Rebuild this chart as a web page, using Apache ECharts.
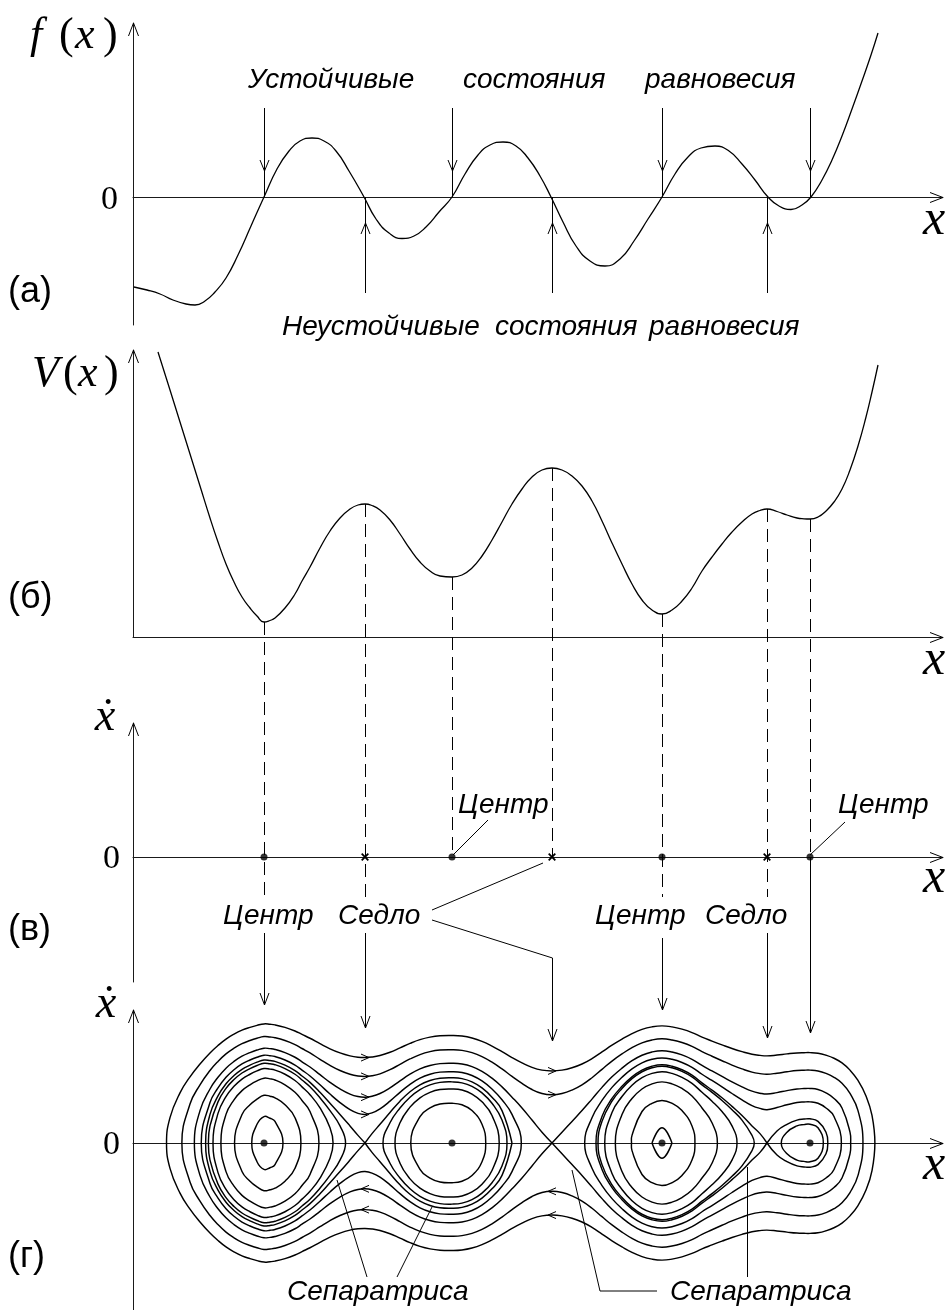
<!DOCTYPE html>
<html><head><meta charset="utf-8"><title>Phase portrait</title>
<script src="https://cdn.jsdelivr.net/npm/echarts@6/dist/echarts.min.js"></script>
<style>html,body{margin:0;padding:0;background:#fff}#c{width:948px;height:1310px}</style>
</head><body><div id="c"></div>
<script>
// ---------- data read from the picture (x measured in units of 100 px from the vertical axes) ----------
// panel (а): f(x)
const fX = [0.01,0.14,0.27,0.40,0.53,0.62,0.72,0.82,0.93,1.05,1.18,1.31,1.44,1.56,1.67,1.79,1.91,2.03,2.16,2.31,2.43,2.56,2.69,2.81,2.93,3.06,3.19,3.32,3.45,3.57,3.70,3.83,3.95,4.07,4.18,4.30,4.43,4.57,4.72,4.87,5.01,5.15,5.29,5.42,5.55,5.68,5.82,5.96,6.09,6.22,6.35,6.46,6.58,6.69,6.78,6.89,6.99,7.09,7.19,7.29,7.38,7.45];
const fY = [-0.90,-0.93,-0.97,-1.03,-1.07,-1.08,-1.04,-0.95,-0.81,-0.58,-0.29,0,0.28,0.46,0.56,0.59,0.56,0.46,0.26,0,-0.22,-0.36,-0.415,-0.39,-0.30,-0.15,0,0.23,0.42,0.52,0.55,0.51,0.39,0.21,0,-0.25,-0.49,-0.64,-0.69,-0.62,-0.44,-0.22,0,0.23,0.40,0.49,0.51,0.46,0.33,0.17,0,-0.09,-0.125,-0.08,0,0.17,0.37,0.61,0.88,1.16,1.42,1.64];
// panel (б): V(x)
const vX = [0.25,0.37,0.47,0.57,0.67,0.77,0.85,0.93,1.01,1.09,1.17,1.24,1.31,1.37,1.42,1.52,1.62,1.69,1.77,1.87,1.97,2.07,2.17,2.25,2.32,2.39,2.47,2.57,2.67,2.77,2.87,2.97,3.07,3.19,3.29,3.39,3.49,3.59,3.69,3.79,3.89,3.99,4.09,4.19,4.29,4.39,4.49,4.59,4.69,4.79,4.89,4.99,5.09,5.19,5.29,5.39,5.49,5.59,5.69,5.79,5.89,5.99,6.09,6.19,6.27,6.34,6.44,6.54,6.64,6.71,6.77,6.85,6.93,7.01,7.09,7.17,7.25,7.33,7.39,7.45];
const vV = [2.85,2.47,2.15,1.83,1.51,1.19,0.95,0.73,0.55,0.40,0.29,0.21,0.15,0.165,0.19,0.29,0.43,0.56,0.70,0.89,1.06,1.19,1.28,1.32,1.33,1.315,1.27,1.17,1.03,0.88,0.75,0.66,0.61,0.60,0.62,0.69,0.81,0.97,1.15,1.33,1.48,1.60,1.67,1.69,1.67,1.61,1.51,1.36,1.16,0.94,0.73,0.53,0.37,0.27,0.23,0.27,0.36,0.49,0.66,0.80,0.93,1.05,1.15,1.23,1.265,1.28,1.255,1.22,1.19,1.182,1.18,1.20,1.26,1.35,1.48,1.67,1.91,2.20,2.45,2.72];
// equilibria (в)
const eqX = [1.31,2.32,3.19,4.19,5.29,6.34,6.77];
const eqKind = ['c','s','c','s','c','s','c'];
// panel (г): energy levels of the drawn phase curves and the wells (seed x) in which each one is drawn
const energyLevels = [0.27,0.54,0.87,1.10,1.24,1.28,1.33,1.47,1.69,2.09,2.58];
const levelSeeds = [[1.31,5.29],[1.31,5.29],[1.31,3.19,5.29],[1.31,3.19,5.29],[1.31,3.19,5.29,6.77],[5.29],[1.31],[1.31,5.29],[1.31],[1.31],[1.31]];
const velScale = 0.764;   // xdot = velScale * sqrt(E - V(x))
// flow-direction chevrons drawn on the phase curves above/below the saddles
const flowArrowSaddles = [2.32,4.19];
const flowArrowUpper = [[1.47,1.69,2.09,2.58],[2.09,2.58]];
const flowArrowLower = [[1.69,2.09],[2.09,2.58]];

// ---------- layout ----------
const PANELS = [
  {top:23,  height:302, ymin:-1.28, ymax:1.74},
  {top:350, height:287, ymin:0,     ymax:2.87},
  {top:723, height:259, ymin:-1.25, ymax:1.34},
  {top:1010,height:300, ymin:-1.67, ymax:1.33}
];
const INK = '#000';
const AX = '#1a1a1a';

// ---------- phase curves: level sets E = const of the energy built from V(x) ----------
function buildPieces(){
  const pieces = [];
  const n = vX.length;
  energyLevels.forEach((E, li) => {
    const seeds = levelSeeds[li];
    const ins = k => vV[k] <= E + 1e-9;
    let i = 0;
    while (i < n) {
      if (!ins(i)) { i++; continue; }
      let j = i; while (j + 1 < n && ins(j + 1)) j++;
      const keep = seeds.some(s => s >= vX[i] - 1e-9 && s <= vX[j] + 1e-9);
      if (keep) {
        const a = vX[i-1] + (E - vV[i-1]) / (vV[i] - vV[i-1]) * (vX[i] - vX[i-1]);
        const b = vX[j] + (E - vV[j]) / (vV[j+1] - vV[j]) * (vX[j+1] - vX[j]);
        const up = [];
        for (let k = i; k <= j; k++) {
          const d = E - vV[k];
          up.push({x: vX[k], y: velScale * Math.sqrt(Math.max(0, d)), z: d < 1e-9});
        }
        const ring = [{x:a,y:0,z:false}].concat(up, [{x:b,y:0,z:false}],
          up.slice().reverse().map(p => ({x:p.x, y:-p.y, z:p.z})));
        const zi = []; ring.forEach((p, k) => { if (p.z) zi.push(k); });
        if (!zi.length) {
          pieces.push({closed:true, pts: ring.map(p => [p.x, p.y])});
        } else {
          for (let m = 0; m < zi.length; m++) {
            const s = zi[m], e = zi[(m + 1) % zi.length];
            const pts = []; let k = s;
            while (true) { pts.push([ring[k].x, ring[k].y]); if (k === e && pts.length > 1) break; k = (k + 1) % ring.length; }
            pieces.push({closed:false, pts});
          }
        }
      }
      i = j + 1;
    }
  });
  return pieces;
}
const pieces = buildPieces();

const chart = echarts.init(document.getElementById('c'), null, {renderer:'canvas', width:948, height:1310});

const option = {
  animation: false,
  backgroundColor: '#ffffff',
  grid: PANELS.map(p => ({left:133, width:810, top:p.top, height:p.height})),
  xAxis: PANELS.map((p, i) => ({gridIndex:i, type:'value', min:0, max:8.1,
    axisLine:{show:true, onZero:true, lineStyle:{color:AX, width:1}},
    axisTick:{show:false}, axisLabel:{show:false}, splitLine:{show:false}})),
  yAxis: PANELS.map((p, i) => ({gridIndex:i, type:'value', min:p.ymin, max:p.ymax,
    axisLine:{show:true, onZero:false, lineStyle:{color:AX, width:1}},
    axisTick:{show:false}, axisLabel:{show:false}, splitLine:{show:false}})),
  series: [
    {type:'line', xAxisIndex:0, yAxisIndex:0, data: fX.map((x, i) => [x, fY[i]]), smooth:true,
      symbol:'none', lineStyle:{color:INK, width:1.3}, silent:true},
    {type:'line', xAxisIndex:1, yAxisIndex:1, data: vX.map((x, i) => [x, vV[i]]), smooth:true,
      symbol:'none', lineStyle:{color:INK, width:1.3}, silent:true},
    {type:'scatter', xAxisIndex:2, yAxisIndex:2, data: eqX.filter((x, i) => eqKind[i] === 'c').map(x => [x, 0]),
      symbol:'circle', symbolSize:7, itemStyle:{color:INK}, silent:true, z:5},
    {type:'custom', xAxisIndex:2, yAxisIndex:2, silent:true, z:5,
      data: eqX.filter((x, i) => eqKind[i] === 's').map(x => [x, 0]),
      renderItem: (params, api) => {
        const c = api.coord([api.value(0), api.value(1)]); const r = 3.3;
        return {type:'group', children:[
          {type:'line', shape:{x1:c[0]-r, y1:c[1]-r, x2:c[0]+r, y2:c[1]+r}, style:{stroke:INK, lineWidth:1.8}},
          {type:'line', shape:{x1:c[0]-r, y1:c[1]+r, x2:c[0]+r, y2:c[1]-r}, style:{stroke:INK, lineWidth:1.8}}]};
      }},
    {type:'custom', xAxisIndex:3, yAxisIndex:3, silent:true, clip:false, z:4,
      data: pieces.map((p, i) => [p.pts[0][0], p.pts[0][1], i]),
      encode:{x:0, y:1},
      renderItem: (params, api) => {
        const pc = pieces[api.value(2)];
        const pts = pc.pts.map(q => api.coord(q));
        return {type: pc.closed ? 'polygon' : 'polyline', shape:{points:pts, smooth:0.45},
          style:{fill:'none', stroke:INK, lineWidth:1.45}};
      }},
    {type:'scatter', xAxisIndex:3, yAxisIndex:3, data: eqX.filter((x, i) => eqKind[i] === 'c').map(x => [x, 0]),
      symbol:'circle', symbolSize:7, itemStyle:{color:INK}, silent:true, z:6}
  ]
};
chart.setOption(option);

// ---------- annotations ----------
const P = (g, x, y) => chart.convertToPixel({gridIndex:g}, [x, y]);
const crisp = v => Math.round(v - 0.5) + 0.5;
const els = [];
function seg(p1, p2, dash, w) {
  els.push({type:'line', silent:true, z:50, shape:{x1:p1[0], y1:p1[1], x2:p2[0], y2:p2[1]},
    style:{stroke:INK, lineWidth:w || 1, lineDash: dash || null}});
}
function poly(points, w) {
  els.push({type:'polyline', silent:true, z:50, shape:{points}, style:{stroke:INK, fill:null, lineWidth:w || 1}});
}
function chev(tip, dir, len, half) {
  len = len || 11; half = half || 4.5; const [x, y] = tip;
  let a, b;
  if (dir === 'down') { a = [x-half, y-len]; b = [x+half, y-len]; }
  else if (dir === 'up') { a = [x-half, y+len]; b = [x+half, y+len]; }
  else if (dir === 'right') { a = [x-len, y-half]; b = [x-len, y+half]; }
  else { a = [x+len, y-half]; b = [x+len, y+half]; }
  poly([a, tip, b]);
}
function text(str, x, y, size, opt) {
  opt = opt || {};
  const fam = opt.serif ? '"Liberation Serif","Times New Roman",serif' : '"Liberation Sans",Arial,sans-serif';
  const font = (opt.italic ? 'italic ' : '') + size + 'px ' + fam;
  els.push({type:'text', silent:true, z:60, style:{text:str, x, y, font, fill:INK,
    align: opt.align || 'left', textAlign: opt.align || 'left', verticalAlign:'middle', textVerticalAlign:'middle'}});
}

// axis arrow heads
PANELS.forEach((p, g) => {
  const top = P(g, 0, p.ymax); chev([crisp(top[0]), top[1]], 'up', 13, 5);
  const xr = P(g, 8.1, 0); chev([xr[0], crisp(xr[1])], 'right', 13, 5);
});

// (а) arrows to the equilibria
eqX.forEach((x, i) => {
  const base = P(0, x, 0); const cx = crisp(base[0]);
  if (eqKind[i] === 'c') {
    const t = P(0, x, 0.89), tip = P(0, x, 0.26);
    seg([cx, t[1]], [cx, base[1]]); chev([cx, tip[1]], 'down', 11, 4.5);
  } else {
    const t = P(0, x, -0.96), tip = P(0, x, -0.26);
    seg([cx, t[1]], [cx, base[1]]); chev([cx, tip[1]], 'up', 11, 4.5);
  }
});

// dashed projections from the extrema of V(x) down to the phase line (в)
const dashEnd = [-0.40, -0.40, 0, 0, -0.40, -0.40, 0];
eqX.forEach((x, i) => {
  const k = vX.indexOf(x);
  const a = P(1, x, vV[k]), b = P(2, x, dashEnd[i]);
  const cx = crisp(a[0]);
  seg([cx, a[1]], [cx, b[1]], [13, 7]);
});

// (в) -> (г) arrows
const arrowFrom = [-0.76, -0.76, null, null, -0.81, -0.76, 0];
const arrowTip  = [1.38, 1.15, null, null, 1.33, 1.05, 1.10];
eqX.forEach((x, i) => {
  if (arrowFrom[i] === null) return;
  const a = P(2, x, arrowFrom[i]), b = P(3, x, arrowTip[i]);
  const cx = crisp(a[0]);
  seg([cx, a[1]], [cx, b[1]]); chev([cx, b[1]], 'down', 12, 4.5);
});

// leader lines in (в)
seg(P(2, 3.20, 0.02), P(2, 3.55, 0.37));
seg(P(2, 6.77, 0.02), P(2, 7.12, 0.35));
seg(P(2, 2.99, -0.53), P(2, 4.10, -0.06));
{
  const a = P(2, 2.99, -0.63), b = P(2, 4.19, -1.01), c = P(3, 4.19, 1.02);
  poly([a, [crisp(b[0]), b[1]], [crisp(b[0]), c[1]]]);
  chev([crisp(b[0]), c[1]], 'down', 12, 4.5);
}
// leader lines in (г)
seg(P(3, 2.34, -1.34), P(3, 2.04, -0.37));
seg(P(3, 2.64, -1.34), P(3, 2.99, -0.64));
poly([P(3, 4.39, -0.27), P(3, 4.67, -1.48), P(3, 5.24, -1.48)]);
{ const a = P(3, 6.14, -0.24), b = P(3, 6.14, -1.34); seg([crisp(a[0]), a[1]], [crisp(a[0]), b[1]]); }

// flow chevrons on the phase curves
flowArrowSaddles.forEach((xs, s) => {
  const k = vX.indexOf(xs);
  flowArrowUpper[s].forEach(E => {
    const p = P(3, xs, velScale * Math.sqrt(E - vV[k])); chev([p[0] + 4, p[1]], 'right', 8, 3.5);
  });
  flowArrowLower[s].forEach(E => {
    const p = P(3, xs, -velScale * Math.sqrt(E - vV[k])); chev([p[0] - 4, p[1]], 'left', 8, 3.5);
  });
});

// ---------- texts ----------
const RU = 28;
text('Устойчивые', 248, 80, RU, {italic:true});
text('состояния', 463, 80, RU, {italic:true});
text('равновесия', 645, 80, RU, {italic:true});
text('Неустойчивые', 282, 327, RU, {italic:true});
text('состояния', 495, 327, RU, {italic:true});
text('равновесия', 649, 327, RU, {italic:true});
text('Центр', 458, 805, RU, {italic:true});
text('Центр', 838, 805, RU, {italic:true});
text('Центр', 223, 916, RU, {italic:true});
text('Седло', 338, 916, RU, {italic:true});
text('Центр', 595, 916, RU, {italic:true});
text('Седло', 705, 916, RU, {italic:true});
text('Сепаратриса', 287, 1292, RU, {italic:true});
text('Сепаратриса', 670, 1292, RU, {italic:true});

text('(а)', 8, 292, 36);
text('(б)', 8, 598, 36);
text('(в)', 8, 930, 36);
text('(г)', 8, 1257, 36);

// math labels
const MS = 44;
text('f', 30, 36, MS, {serif:true, italic:true});
text('(', 59, 36, MS, {serif:true});
text('x', 75, 36, MS, {serif:true, italic:true});
text(')', 103, 36, MS, {serif:true});
text('V', 32, 374, MS, {serif:true, italic:true});
text('(', 63, 374, MS, {serif:true});
text('x', 78, 374, MS, {serif:true, italic:true});
text(')', 104, 374, MS, {serif:true});
text('0', 118, 200, 34, {serif:true, align:'right'});
text('0', 120, 859, 34, {serif:true, align:'right'});
text('0', 120, 1145, 34, {serif:true, align:'right'});
[225, 665, 883, 1170].forEach(y => text('x', 934, y - 4, 50, {serif:true, italic:true, align:'center'}));
text('ẋ', 105, 718, 46, {serif:true, italic:true, align:'center'});
text('ẋ', 106, 1005, 46, {serif:true, italic:true, align:'center'});

chart.setOption({graphic:{elements:els}});
</script></body></html>
